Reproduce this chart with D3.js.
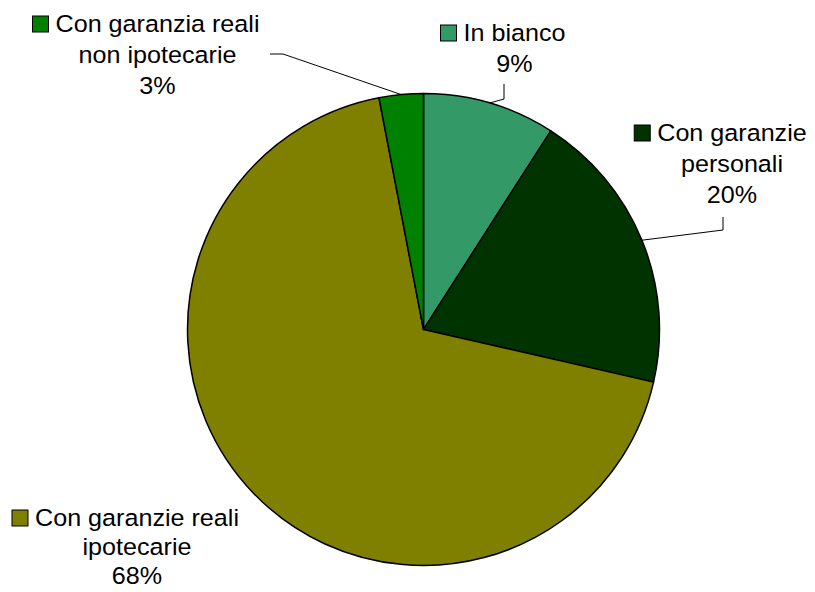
<!DOCTYPE html>
<html><head><meta charset="utf-8">
<script src="https://cdn.jsdelivr.net/npm/d3@7"></script>
<style>html,body{margin:0;padding:0;background:#fff;}</style>
</head><body>
<svg id="chart" width="815" height="592"></svg>
<script>
const categories = ["In bianco", "Con garanzie personali", "Con garanzie reali ipotecarie", "Con garanzia reali non ipotecarie"];
const values = [9.07, 19.51, 68.40, 3.02];
const percentLabels = ["9%", "20%", "68%", "3%"];
const labelLines = [["In bianco"], ["Con garanzie", "personali"], ["Con garanzie reali", "ipotecarie"], ["Con garanzia reali", "non ipotecarie"]];
const colors = ["#339966", "#003300", "#808000", "#008000"];

const svg = d3.select("#chart");
const cx = 423.5, cy = 329.5, r = 236;
const g = svg.append("g").attr("transform", `translate(${cx},${cy})`);

const pie = d3.pie().sort(null).value(d => d)(values);
const arc = d3.arc().innerRadius(0).outerRadius(r);
const rim = d3.arc().innerRadius(r).outerRadius(r);

g.selectAll("path").data(pie).enter().append("path")
  .attr("d", arc).attr("fill", (d,i) => colors[i])
  .attr("stroke", "#000").attr("stroke-width", 1.5).attr("stroke-linejoin", "round");

// label layout (positions)
const labelPos = [
  {cx: 514.5, y0: 41, dy: 31, leader: [[504, 84], [504, 99]]},
  {cx: 732, y0: 141, dy: 31, leader: [[723, 217], [723, 230]]},
  {cx: 137, y0: 526, dy: 29, leader: null},
  {cx: 157.5, y0: 32, dy: 31, leader: [[270, 54], [283, 54]]}
];
const fs = 23.5, sx = 1.07, mk = 16, gap = 7;

pie.forEach((d, i) => {
  const p = labelPos[i];
  if (p.leader) {
    const c = rim.centroid(d);
    const pts = p.leader.concat([[c[0] + cx, c[1] + cy]]);
    svg.append("path").attr("d", d3.line()(pts)).attr("fill", "none")
      .attr("stroke", "#000").attr("stroke-width", 1);
  }
  const lines = labelLines[i].concat([percentLabels[i]]);
  let firstW = 0;
  lines.forEach((t, k) => {
    const tg = svg.append("g").attr("transform", `translate(${p.cx},${p.y0 + k * p.dy}) scale(${sx},1)`);
    const te = tg.append("text").attr("x", 0).attr("y", 0).attr("text-anchor", "middle")
      .attr("font-family", "'Liberation Sans', Arial, sans-serif").attr("font-size", fs)
      .attr("fill", "#000").text(t);
    if (k === 0) firstW = te.node().getComputedTextLength() * sx;
  });
  svg.append("rect")
    .attr("x", p.cx - firstW / 2 - gap - mk).attr("y", p.y0 - mk)
    .attr("width", mk).attr("height", mk)
    .attr("fill", colors[i]).attr("stroke", "#000").attr("stroke-width", 1);
});
</script>
</body></html>
